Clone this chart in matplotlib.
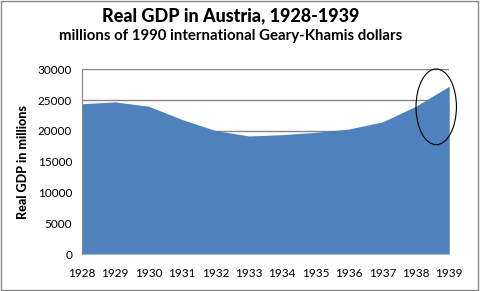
import matplotlib
matplotlib.use('Agg')
from matplotlib import pyplot as plt
from matplotlib.patches import Ellipse, Rectangle

# datos
anios = [1928, 1929, 1930, 1931, 1932, 1933, 1934, 1935, 1936, 1937, 1938, 1939]
pib = [24400, 24700, 24000, 21850, 20050, 19170, 19380, 19760, 20300, 21450, 24000, 27250]
yticks = [0, 5000, 10000, 15000, 20000, 25000, 30000]

titulo = 'Real GDP in Austria, 1928-1939'
subtitulo = 'millions of 1990 international Geary-Khamis dollars'
etiqueta_y = 'Real GDP in millions'


def main():
    plt.rcParams['font.family'] = ['Lato', 'DejaVu Sans']

    fig = plt.figure(figsize=(4.81, 2.91), dpi=100)
    ax = fig.add_axes([0.170, 0.127, 0.764, 0.635])

    ax.fill_between(anios, pib, 0, color='#4F81BD', linewidth=0)

    ax.set_xlim(anios[0], anios[-1])
    ax.set_ylim(0, 30000)
    ax.set_xticks(anios)
    ax.set_xticklabels([str(a) for a in anios], fontsize=8.5)
    ax.set_yticks(yticks)
    ax.set_yticklabels([str(v) for v in yticks], fontsize=8.5)
    ax.tick_params(axis='x', length=0, pad=10)
    ax.tick_params(axis='y', length=0, pad=7)

    for v in yticks[1:]:
        ax.axhline(v, color='#868686', linewidth=1, zorder=0)

    for lado in ['top', 'right', 'bottom']:
        ax.spines[lado].set_visible(False)
    ax.spines['left'].set_color('#868686')

    ax.set_ylabel(etiqueta_y, fontsize=9, fontweight='black', labelpad=6)

    # elipse que marca 1938-1939
    ax.add_patch(Ellipse((1938.61, 23900), 1.21, 12300, fill=False,
                         edgecolor='black', linewidth=0.8, clip_on=False, zorder=5))

    fig.text(0.480, 0.945, titulo, ha='center', va='center', fontsize=13, fontweight='black')
    fig.text(0.480, 0.877, subtitulo, ha='center', va='center', fontsize=10.8, fontweight='bold')

    fig.patches.append(Rectangle((0.002, 0.005), 0.992, 0.99, transform=fig.transFigure,
                                 fill=False, edgecolor='#888888', linewidth=1))

    fig.savefig('out.png', dpi=100)


if __name__ == "__main__":
    main()
